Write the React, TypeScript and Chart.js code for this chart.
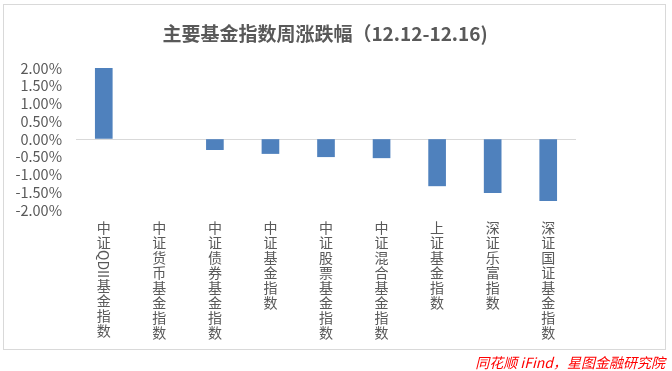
import React, { useEffect, useRef } from "react";
import { Chart, registerables } from "chart.js";

Chart.register(...registerables);

const categories = [
  "中证QDII基金指数",
  "中证货币基金指数",
  "中证债券基金指数",
  "中证基金指数",
  "中证股票基金指数",
  "中证混合基金指数",
  "上证基金指数",
  "深证乐富指数",
  "深证国证基金指数",
];
// 中证货币基金指数: change too small to show a bar in the picture
const weeklyChange: (number | null)[] = [2.0, null, -0.3, -0.41, -0.5, -0.53, -1.32, -1.51, -1.74];
const yMin = -2;
const yMax = 2;
const yStep = 0.5;
const titleText = "主要基金指数周涨跌幅（12.12-12.16)";
const sourceText = "同花顺 iFind，星图金融研究院";

const FONT = '"Noto Sans CJK SC", "Noto Sans", sans-serif';
const TEXT_COLOR = "#595959";

const verticalLabels = {
  id: "verticalLabels",
  afterDraw(chart: any) {
    const ctx = chart.ctx;
    const xs = chart.scales.x;
    const labels: string[] = chart.data.labels;
    ctx.save();
    ctx.font = `14px ${FONT}`;
    ctx.fillStyle = TEXT_COLOR;
    ctx.textBaseline = "middle";
    ctx.textAlign = "center";
    labels.forEach((label, i) => {
      const x = xs.getPixelForValue(i);
      let y = chart.chartArea.bottom + 10;
      for (const ch of Array.from(label)) {
        const code = ch.codePointAt(0) || 0;
        if (code >= 0x2e80) {
          ctx.fillText(ch, x, y + 7.5);
          y += 15;
        } else {
          const w = ctx.measureText(ch).width;
          ctx.save();
          ctx.translate(x, y + w / 2);
          ctx.rotate(Math.PI / 2);
          ctx.fillText(ch, 0, 0);
          ctx.restore();
          y += w;
        }
      }
    });
    ctx.restore();
  },
};

export default function App() {
  const ref = useRef<HTMLCanvasElement>(null);
  useEffect(() => {
    if (!ref.current) return;
    const chart = new Chart(ref.current, {
      type: "bar",
      data: {
        labels: categories,
        datasets: [
          {
            data: weeklyChange,
            backgroundColor: "#4F81BD",
            barThickness: 17,
          },
        ],
      },
      options: {
        animation: false,
        responsive: false,
        layout: { padding: { left: 0, top: 68, right: 96, bottom: 0 } },
        plugins: {
          legend: { display: false },
          tooltip: { enabled: false },
          title: { display: false },
        },
        scales: {
          x: {
            grid: { display: false, drawTicks: false },
            border: { display: false },
            ticks: { display: false },
            afterFit: (s: any) => {
              s.height = 161;
            },
          },
          y: {
            min: yMin,
            max: yMax,
            border: { display: false },
            grid: {
              drawTicks: false,
              color: (c: any) => (c.tick && c.tick.value === 0 ? "#d9d9d9" : "rgba(0,0,0,0)"),
              lineWidth: 1,
            },
            ticks: {
              stepSize: yStep,
              autoSkip: false,
              padding: 14,
              color: TEXT_COLOR,
              font: { family: FONT, size: 14.5 },
              callback: (v: any) => Number(v).toFixed(2) + "%",
            },
            afterFit: (s: any) => {
              s.width = 76;
            },
          },
        },
      },
      plugins: [verticalLabels],
    });
    return () => chart.destroy();
  }, []);

  return (
    <div
      style={{
        position: "fixed",
        left: 0,
        top: 0,
        width: 672,
        height: 371,
        background: "#fff",
        overflow: "hidden",
      }}
    >
      <div
        style={{
          position: "absolute",
          left: 3,
          top: 4,
          width: 663,
          height: 346,
          border: "1px solid #d9d9d9",
          boxSizing: "border-box",
        }}
      />
      <canvas ref={ref} width={672} height={371} style={{ position: "absolute", left: 0, top: 0 }} />
      <div
        style={{
          position: "absolute",
          left: 0,
          width: 650,
          top: 19,
          textAlign: "center",
          fontFamily: FONT,
          fontWeight: "bold",
          fontSize: 19,
          lineHeight: "28px",
          color: TEXT_COLOR,
          whiteSpace: "nowrap",
        }}
      >
        {titleText}
      </div>
      <div
        style={{
          position: "absolute",
          right: 7,
          top: 352,
          fontFamily: FONT,
          fontStyle: "italic",
          fontSize: 14,
          lineHeight: "20px",
          color: "#ff0000",
          whiteSpace: "nowrap",
        }}
      >
        {sourceText}
      </div>
    </div>
  );
}
